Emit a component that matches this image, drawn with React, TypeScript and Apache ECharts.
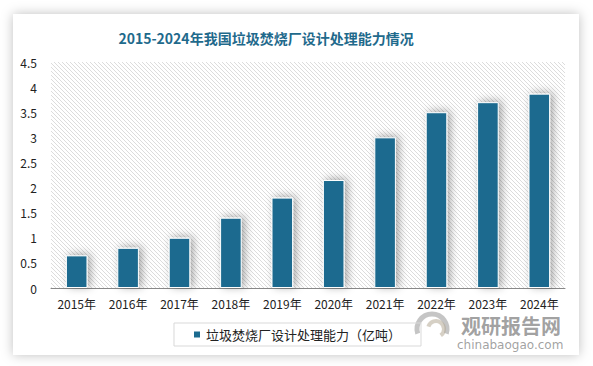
import React, { useEffect, useRef } from "react";
import * as echarts from "echarts";

const categories = ["2015年", "2016年", "2017年", "2018年", "2019年", "2020年", "2021年", "2022年", "2023年", "2024年"];
const capacity = [0.65, 0.8, 1.0, 1.4, 1.8, 2.15, 3.0, 3.5, 3.7, 3.87];
const seriesName = "垃圾焚烧厂设计处理能力（亿吨）";
const titleText = "2015-2024年我国垃圾焚烧厂设计处理能力情况";

function makePattern() {
  const c = document.createElement("canvas");
  c.width = 4;
  c.height = 4;
  const ctx = c.getContext("2d")!;
  ctx.fillStyle = "#ffffff";
  ctx.fillRect(0, 0, 4, 4);
  ctx.strokeStyle = "#dcdcdc";
  ctx.lineWidth = 1;
  ctx.beginPath();
  ctx.moveTo(-1, -1);
  ctx.lineTo(5, 5);
  ctx.moveTo(-1, 3);
  ctx.lineTo(1, 5);
  ctx.moveTo(3, -1);
  ctx.lineTo(5, 1);
  ctx.stroke();
  return c;
}

export default function App() {
  const ref = useRef<HTMLDivElement>(null);
  useEffect(() => {
    document.body.style.margin = "0";
    const chart = echarts.init(ref.current!, null, { renderer: "svg" });
    const pattern = makePattern();
    chart.setOption({
      animation: false,
      backgroundColor: "#ffffff",
      graphic: [
        {
          type: "rect",
          z: -10,
          shape: { x: 13, y: 14, width: 566, height: 341 },
          style: { fill: "#ffffff", shadowBlur: 12, shadowColor: "rgba(0,0,0,0.25)" },
        },
        {
          type: "group",
          z: 100,
          children: [
            { type: "arc", shape: { cx: 432, cy: 329, r: 15, startAngle: Math.PI * 0.9, endAngle: Math.PI * 2.1 }, style: { stroke: "rgba(150,150,150,0.55)", lineWidth: 5, fill: "none" } },
            { type: "arc", shape: { cx: 436, cy: 329, r: 8, startAngle: Math.PI * 1.1, endAngle: Math.PI * 2.3 }, style: { stroke: "rgba(180,170,150,0.55)", lineWidth: 4, fill: "none" } },
            { type: "text", x: 461, y: 315, style: { text: "观研报告网", font: "bold 20px 'Noto Sans CJK SC'", lineHeight: 20, fill: "rgba(120,120,120,0.7)" } },
            { type: "text", x: 457, y: 339, style: { text: "chinabaogao.com", font: "12px 'DejaVu Sans'", lineHeight: 12, fill: "rgba(120,120,120,0.7)" } },
          ],
        },
      ],
      title: {
        text: titleText,
        left: 261,
        textAlign: "center",
        top: 26,
        textStyle: { color: "#1f6a8c", fontSize: 14, fontWeight: "bold", fontFamily: "'Noto Sans CJK SC'" },
      },
      grid: {
        left: 51,
        right: 28,
        top: 62,
        bottom: 78,
        show: true,
        borderWidth: 0,
        backgroundColor: { image: pattern, repeat: "repeat" },
      },
      legend: {
        bottom: 20,
        left: "center",
        data: [seriesName],
        icon: "rect",
        itemWidth: 8,
        itemHeight: 8,
        itemGap: 4,
        borderColor: "#d9d9d9",
        borderWidth: 1,
        padding: [5, 20, 5, 18],
        textStyle: { fontSize: 13, color: "#222", fontFamily: "'Noto Sans CJK SC'" },
      },
      xAxis: {
        type: "category",
        data: categories,
        axisLine: { lineStyle: { color: "#888", width: 1 } },
        axisTick: { show: false },
        axisLabel: { color: "#222", fontSize: 12, margin: 9, lineHeight: 13, fontFamily: "'Noto Sans CJK SC'" },
      },
      yAxis: {
        type: "value",
        min: 0,
        max: 4.5,
        interval: 0.5,
        axisLine: { show: false },
        axisTick: { show: false },
        splitLine: { show: false },
        axisLabel: { color: "#222", fontSize: 12, margin: 14, fontFamily: "'Noto Sans CJK SC'" },
      },
      series: [
        {
          name: seriesName,
          type: "bar",
          data: capacity,
          barWidth: "42%",
          itemStyle: {
            color: "#1b6b8f",
            borderColor: "#ffffff",
            borderWidth: 1,
            shadowBlur: 8,
            shadowColor: "rgba(0,0,0,0.35)",
            shadowOffsetX: 3,
            shadowOffsetY: -1,
          },
        },
      ],
    });
    return () => chart.dispose();
  }, []);
  return <div ref={ref} style={{ width: 593, height: 366 }} />;
}
